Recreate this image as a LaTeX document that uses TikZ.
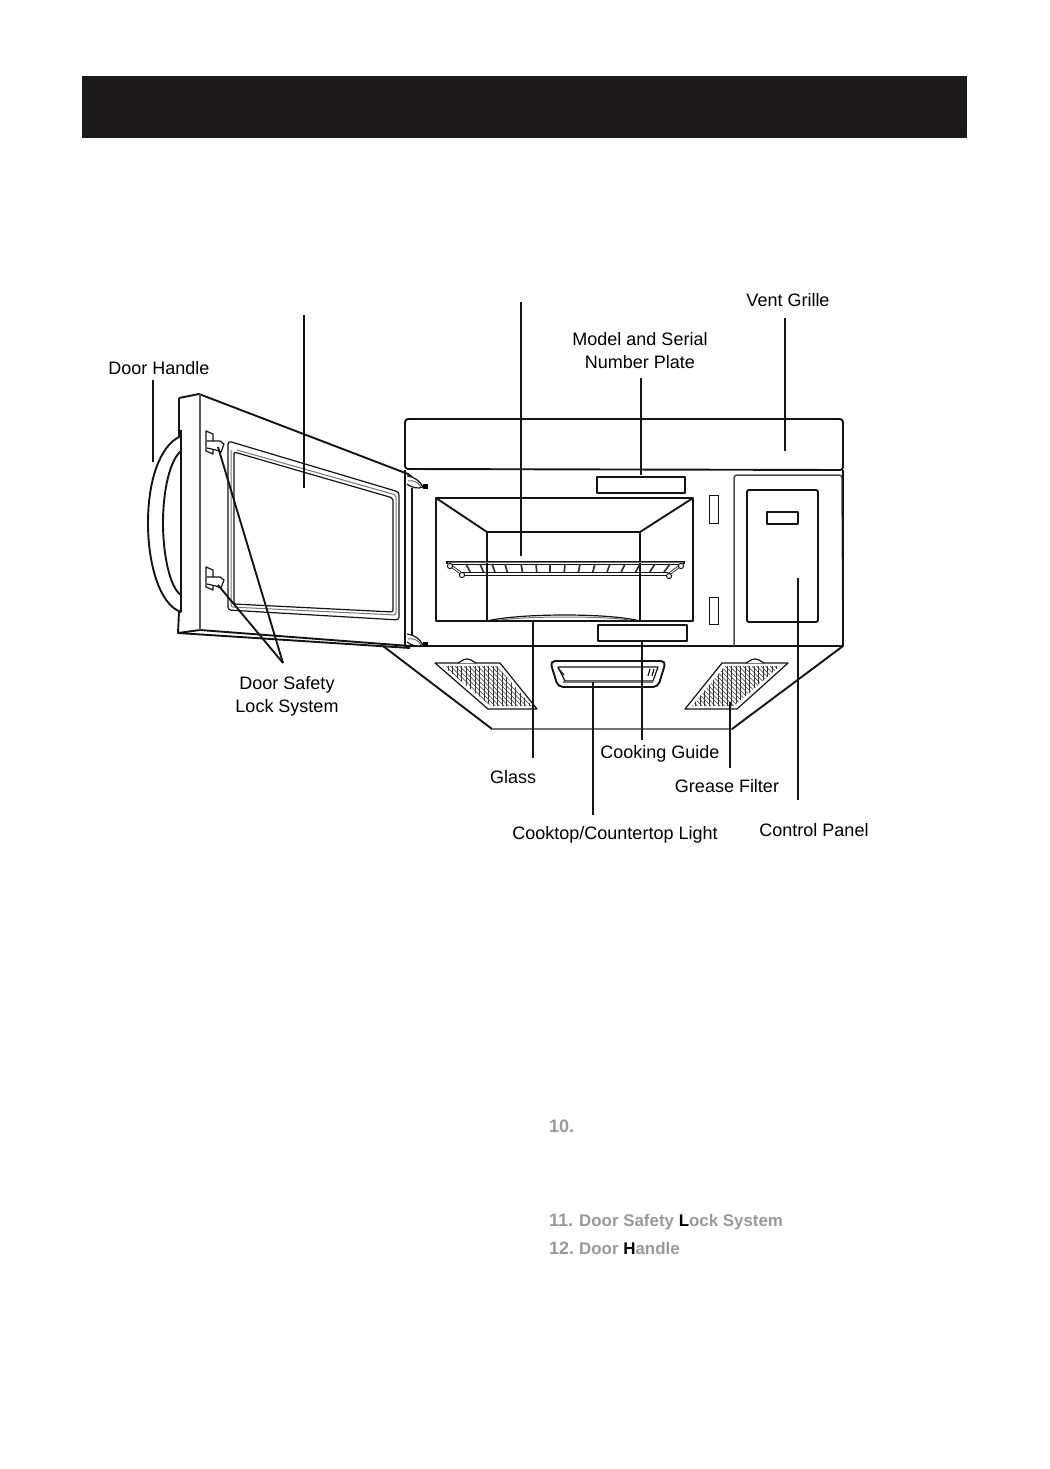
\documentclass[tikz,border=0pt]{standalone}
\usepackage{fontspec}
\setmainfont{Liberation Sans}
\newcommand{\lbl}{\fontsize{18}{23}\selectfont}
\definecolor{barblack}{HTML}{1C1A1B}
\tikzset{
   part/.style={draw=black!92, line width=1.9pt, line join=round},
   thin part/.style={draw=black!92, line width=1.2pt, line join=round},
   rack bar/.style={draw=black!92, line width=0.8pt},
   grey part/.style={draw=black!55, line width=1pt},
   leader/.style={draw=black!92, line width=1.9pt},
   callout/.style={font=\lbl, align=center, text=black, inner sep=0pt},
   listitem/.style={font=\lbl\bfseries, text=black!40, anchor=base west, inner sep=0pt},
   hatch/.style={draw=black!80, line width=0.7pt},
}
\begin{document}
\begin{tikzpicture}[x=1pt, y=-1pt]
\useasboundingbox (0,0) rectangle (1049,1469);
\fill[barblack] (82,76) rectangle (967,138);

\draw[part] (405,469) -- (405,424) [rounded corners=3pt] -- (405,419) -- (843,419) -- (843,470) -- cycle;
\draw[part] (405,470) -- (405,646) -- (843,646) -- (843,470);
\draw[part] (383,646) -- (492,729) -- (732,729) -- (843,646);
\draw[grey part, line width=1.4pt] (492,729) -- (732,729);

\draw[part] (179,398) -- (199,394) -- (408,474) -- (412,477);
\draw[part] (179,398) -- (179,436);
\draw[part] (181,612) -- (179,612) -- (178,633) -- (200,630) -- (410,646);
\draw[part] (178,633) -- (410,648);
\draw[part, draw=black!65, line width=1.5pt] (200,394) -- (200,630);
\draw[part] (181,430) -- (181,612);
\draw[part] (181,436) .. controls (160,445) and (148,480) .. (148,523) .. controls (148,565) and (160,605) .. (181,612);
\draw[part] (181,451) .. controls (170,460) and (163,490) .. (163,523) .. controls (163,555) and (170,588) .. (181,595);
\draw[thin part, rounded corners=3pt] (228,441) -- (399,492) -- (399,620) -- (228,610) -- cycle;
\draw[thin part, rounded corners=2pt] (234,452) -- (393,498) -- (393,612) -- (234,604) -- cycle;
\draw[grey part, rounded corners=2pt] (237,450) -- (396,495) -- (396,615) -- (231,607) -- (231,450);
\foreach \dy in {0,136} {
   \draw[thin part, fill=white] (206,431+\dy) -- (213,434+\dy) -- (213,454+\dy) -- (206,451+\dy) -- cycle;
   \draw[thin part, fill=white] (207,441+\dy) -- (220,441+\dy) -- (224,444+\dy) -- (221,452+\dy) -- (216,450+\dy) -- (207,448+\dy);
}
\foreach \hy in {0,158} {
   \draw[thin part, fill=white] (407,476+\hy) .. controls (416,477+\hy) and (420,482+\hy) .. (423,487+\hy) .. controls (418,489+\hy) and (412,488+\hy) .. (407,484+\hy);
   \draw[grey part] (408,481+\hy) .. controls (414,480+\hy) and (418,482+\hy) .. (421,487+\hy);
   \fill[black] (423,484+\hy) rectangle (428,489+\hy);
}
\draw[part] (412,488) -- (412,636);

\draw[part] (436,498) rectangle (693,621);
\draw[part] (487,621) -- (487,532) -- (640,532) -- (640,621);
\draw[part] (436,498) -- (487,532);
\draw[part] (693,498) -- (640,532);
\draw[thin part] (487,621) .. controls (520,613) and (610,613) .. (640,621);
\draw[grey part] (500,620) .. controls (530,616) and (600,616) .. (630,620);

\draw[rack bar] (447,561) -- (684,561);
\draw[grey part, line width=1.5pt] (447,562.5) -- (684,562.5);
\draw[rack bar] (449,564) -- (682,564);
\draw[rack bar] (463,572.5) -- (668,572.5);
\draw[rack bar] (463,575.5) -- (668,575.5);
\foreach \tx in {466,480,492,505,521,536,550,565,580,595,610,625,640,655,670} {
   \draw[draw=black!80, line width=1.7pt] (\tx,564) -- ({550+(\tx-550)*0.95},572);
}
\draw[draw=black!92, line width=2.6pt] (451,566) -- (462,574);
\draw[draw=black!92, line width=2.6pt] (680,566) -- (669,574);
\draw[white, line width=1pt] (451,566) -- (462,574);
\draw[white, line width=1pt] (680,566) -- (669,574);
\foreach \rx/\ry in {450/566,462/575,681/566,669/576} {
   \draw[thin part, line width=1pt, fill=white] (\rx,\ry) circle (2.6);
}
\draw[rack bar, line width=1.2pt] (447,561) -- (447,564);
\draw[rack bar, line width=1.2pt] (684,561) -- (684,564);

\draw[part] (597,477) rectangle (685,493);
\draw[part] (598,625) rectangle (687,641);
\draw[draw=black!92, line width=0.9pt] (709,495) rectangle (718,523);
\draw[draw=black!92, line width=0.9pt] (709,597) rectangle (718,624);
\draw[grey part, draw=black!70, line width=1.5pt, rounded corners=3pt] (734,646) -- (734,475) -- (842,475) -- (843,646);
\draw[part] (843,475) -- (843,646);
\draw[part, rounded corners=2pt] (747,490) rectangle (818,622);
\draw[part] (767,512) rectangle (798,524);

\foreach \a/\b/\c/\d/\bx/\ia/\ib/\ic/\id in {435/500/537/488/467/443/497/532/491,722/788/737/685/755/725/780/734/692} {
   \begin{scope}
   \clip (\ia,666) -- (\ib,666) -- (\ic,706) -- (\id,706) -- cycle;
   \foreach \hx in {430,434.5,...,790} {\draw[hatch] (\hx,663) -- (\hx,709);}
   \foreach \hx in {380,384.5,...,790} {\draw[hatch] (\hx,663) -- (\hx+46,709);}
   \end{scope}
   \draw[thin part] (\a,663) -- (\b,663) -- (\c,709) -- (\d,709) -- cycle;
   \draw[thin part, fill=white] (\bx-9,663) .. controls (\bx-5,662) and (\bx-5,659) .. (\bx,659) .. controls (\bx+5,659) and (\bx+5,662) .. (\bx+9,663);
}
\draw[part, rounded corners=5pt] (550,661) -- (666,661) -- (658,687) -- (558,687) -- cycle;
\draw[thin part] (558,667) -- (658,667) -- (653,681) -- (565,681) -- cycle;
\draw[grey part, line width=1.5pt] (563,682) -- (653,682);
\draw[thin part] (558,668) -- (564,675);
\draw[thin part] (650,669) -- (648,676);
\draw[thin part] (654,669) -- (652,676);

\node[callout] (vent) at (788,300) {Vent Grille};
\node[callout] (plate) at (640,351) {Model and Serial\\Number Plate};
\node[callout] (handle) at (159,368) {Door Handle};
\node[callout] (lock) at (287,696) {Door Safety\\Lock System};
\node[callout] (guide) at (660,754) {Cooking Guide};
\node[callout] (glass) at (513,777) {Glass};
\node[callout] (filter) at (727,786) {Grease Filter};
\node[callout] (light) at (615,835) {Cooktop/Countertop Light};
\node[callout] (panel) at (814,830) {Control Panel};

\coordinate (d1) at (304,315); \coordinate (d2) at (304,488);
\coordinate (r1) at (521,302); \coordinate (r2) at (521,556);
\coordinate (v1) at (785,318); \coordinate (v2) at (785,451);
\coordinate (p1) at (641,378); \coordinate (p2) at (641,475);
\coordinate (h1) at (153,380); \coordinate (h2) at (153,462);
\coordinate (k0) at (283,663); \coordinate (k1) at (218,447); \coordinate (k2) at (218,585);
\coordinate (g1) at (533,620); \coordinate (g2) at (533,758);
\coordinate (c1) at (642,641); \coordinate (c2) at (642,740);
\coordinate (l1) at (593,682); \coordinate (l2) at (593,815);
\coordinate (f1) at (730,702); \coordinate (f2) at (730,768);
\coordinate (n1) at (798,578); \coordinate (n2) at (798,800);
\draw[leader] (d1) -- (d2);
\draw[leader] (r1) -- (r2);
\draw[leader] (v1) -- (v2);
\draw[leader] (p1) -- (p2);
\draw[leader] (h1) -- (h2);
\draw[leader] (k0) -- (k1);
\draw[leader] (k0) -- (k2);
\draw[leader] (g1) -- (g2);
\draw[leader, line width=2.6pt] (c1) -- (c2);
\draw[leader] (l1) -- (l2);
\draw[leader] (f1) -- (f2);
\draw[leader] (n1) -- (n2);

\node[listitem] (n10) at (549,1132) {10.};
\node[listitem] (n11) at (549,1226) {11.};
\node[listitem] (n12) at (549,1254) {12.};
\node[listitem, font=\fontsize{16.9}{20}\selectfont\bfseries] (t11) at (579,1226) {Door Safety \textcolor{black}{L}ock System};
\node[listitem, font=\fontsize{16.9}{20}\selectfont\bfseries] (t12) at (579,1254) {Door \textcolor{black}{H}andle};
\end{tikzpicture}
\end{document}
